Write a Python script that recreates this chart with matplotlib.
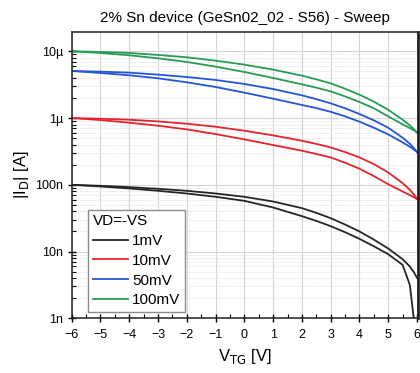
import math
import matplotlib
matplotlib.use("Agg")
import matplotlib.pyplot as plt
from matplotlib.ticker import LogLocator, MultipleLocator, FuncFormatter, NullFormatter

plt.rcParams['font.family'] = ['Liberation Sans', 'DejaVu Sans']

# gate sweep, V_TG [V]
vtg = [-6, -5, -4, -3, -2, -1, 0, 1, 2, 2.5, 3, 3.5, 4, 4.5, 5, 5.5, 5.75, 5.9, 6]

# |I_D| [A], forward (upper) and reverse (lower) branch for each VD=-VS
id_1mv_fwd = [1.0e-7, 9.66e-8, 9.23e-8, 8.71e-8, 8.13e-8, 7.41e-8, 6.61e-8, 5.62e-8, 4.47e-8,
              3.8e-8, 3.16e-8, 2.54e-8, 2.0e-8, 1.51e-8, 1.11e-8, 7.67e-9, 5.96e-9, 4.84e-9, 4.03e-9]
id_1mv_rev = [1.0e-7, 9.44e-8, 8.81e-8, 8.13e-8, 7.41e-8, 6.61e-8, 5.75e-8, 4.57e-8, 3.39e-8,
              2.88e-8, 2.40e-8, 1.95e-8, 1.55e-8, 1.20e-8, 9.12e-9, 6.31e-9, 3.16e-9, 8.9e-10, 5e-10]
id_10mv_fwd = [1.0e-6, 9.77e-7, 9.44e-7, 8.91e-7, 8.22e-7, 7.41e-7, 6.46e-7, 5.50e-7, 4.57e-7,
               4.1e-7, 3.63e-7, 3.09e-7, 2.57e-7, 2.04e-7, 1.53e-7, 1.06e-7, 8.41e-8, 7.08e-8, 6.17e-8]
id_10mv_rev = [1.0e-6, 9.33e-7, 8.51e-7, 7.67e-7, 6.76e-7, 5.75e-7, 4.79e-7, 3.94e-7, 3.24e-7,
               2.9e-7, 2.57e-7, 2.14e-7, 1.74e-7, 1.35e-7, 1.02e-7, 7.94e-8, 7.0e-8, 6.49e-8, 6.10e-8]
id_50mv_fwd = [5.07e-6, 4.95e-6, 4.79e-6, 4.47e-6, 4.12e-6, 3.72e-6, 3.24e-6, 2.72e-6, 2.19e-6,
               1.92e-6, 1.66e-6, 1.40e-6, 1.15e-6, 9.23e-7, 7.16e-7, 5.07e-7, 4.12e-7, 3.51e-7, 3.09e-7]
id_50mv_rev = [5.07e-6, 4.73e-6, 4.37e-6, 3.94e-6, 3.43e-6, 2.92e-6, 2.40e-6, 1.95e-6, 1.57e-6,
               1.41e-6, 1.24e-6, 1.06e-6, 8.81e-7, 7.16e-7, 5.69e-7, 4.31e-7, 3.72e-7, 3.35e-7, 3.09e-7]
id_100mv_fwd = [1.0e-5, 9.77e-6, 9.44e-6, 8.81e-6, 8.13e-6, 7.24e-6, 6.31e-6, 5.31e-6, 4.32e-6,
                3.8e-6, 3.31e-6, 2.75e-6, 2.24e-6, 1.76e-6, 1.33e-6, 9.44e-7, 7.76e-7, 6.76e-7, 6.03e-7]
id_100mv_rev = [1.0e-5, 9.44e-6, 8.71e-6, 7.85e-6, 6.92e-6, 5.89e-6, 4.90e-6, 3.98e-6, 3.20e-6,
                2.85e-6, 2.51e-6, 2.11e-6, 1.74e-6, 1.40e-6, 1.06e-6, 8.04e-7, 7.08e-7, 6.53e-7, 6.10e-7]

labels = ["1mV", "10mV", "50mV", "100mV"]
colors = ["#262626", "#e3242b", "#2455d4", "#2a9a57"]
branches = [(id_1mv_fwd, id_1mv_rev), (id_10mv_fwd, id_10mv_rev),
            (id_50mv_fwd, id_50mv_rev), (id_100mv_fwd, id_100mv_rev)]

fig = plt.figure(figsize=(4.2, 3.73), dpi=100)
ax = fig.add_axes([0.1707, 0.1466, 0.8243, 0.7674])

for (fwd, rev), c, lab in zip(branches, colors, labels):
    ax.plot(vtg, fwd, color=c, lw=1.3, label=lab, solid_joinstyle="round")
    ax.plot(vtg, rev, color=c, lw=1.3, solid_joinstyle="round")

ax.set_yscale("log")
ax.set_xlim(-6, 6.03)
ax.set_ylim(1e-9, 1.94e-5)

ax.xaxis.set_major_locator(MultipleLocator(1))
ax.xaxis.set_minor_locator(MultipleLocator(0.5))
ax.yaxis.set_major_locator(LogLocator(base=10, numticks=10))
ax.yaxis.set_minor_locator(LogLocator(base=10, subs=range(2, 10), numticks=10))
ax.yaxis.set_minor_formatter(NullFormatter())

prefix = {-9: "1n", -8: "10n", -7: "100n", -6: "1µ", -5: "10µ"}
def fmt_si(v, pos):
    return prefix.get(int(round(math.log10(v))), "")
ax.yaxis.set_major_formatter(FuncFormatter(fmt_si))
ax.xaxis.set_major_formatter(FuncFormatter(lambda v, p: f"{int(round(v))}".replace("-", "\u2212")))

ax.grid(True, which="major", color="#d4d4d4", lw=0.8)
ax.grid(True, which="minor", axis="y", color="#e6e6e6", lw=0.6, ls=(0, (2, 1)))
ax.set_axisbelow(True)

ax.tick_params(which="major", direction="inout", length=6, width=1.0, labelsize=9, pad=3)
ax.tick_params(axis="x", which="major", pad=5)
ax.tick_params(which="minor", direction="in", length=3, width=0.8)

for s in ["left", "bottom", "top"]:
    ax.spines[s].set_linewidth(1.1)
    ax.spines[s].set_color("#222222")
ax.spines["right"].set_linewidth(2.0)
ax.spines["right"].set_color("#222222")

ax.set_title("2% Sn device (GeSn02_02 - S56) - Sweep", fontsize=11, pad=7)
ax.set_xlabel("V$_{\\mathrm{TG}}$ [V]", fontsize=12, labelpad=4)
ax.set_ylabel("|I$_{\\mathrm{D}}$| [A]", fontsize=12, labelpad=3)

leg = ax.legend(title="VD=-VS", loc="lower left", bbox_to_anchor=(0.047, 0.022),
                borderaxespad=0, fontsize=11, title_fontsize=11, alignment="left",
                fancybox=False, framealpha=1, edgecolor="#8c8c8c",
                handlelength=2.3, handletextpad=0.3, labelspacing=0.38,
                borderpad=0.3)
leg.get_frame().set_linewidth(1.0)

fig.savefig("out.png", dpi=100)
